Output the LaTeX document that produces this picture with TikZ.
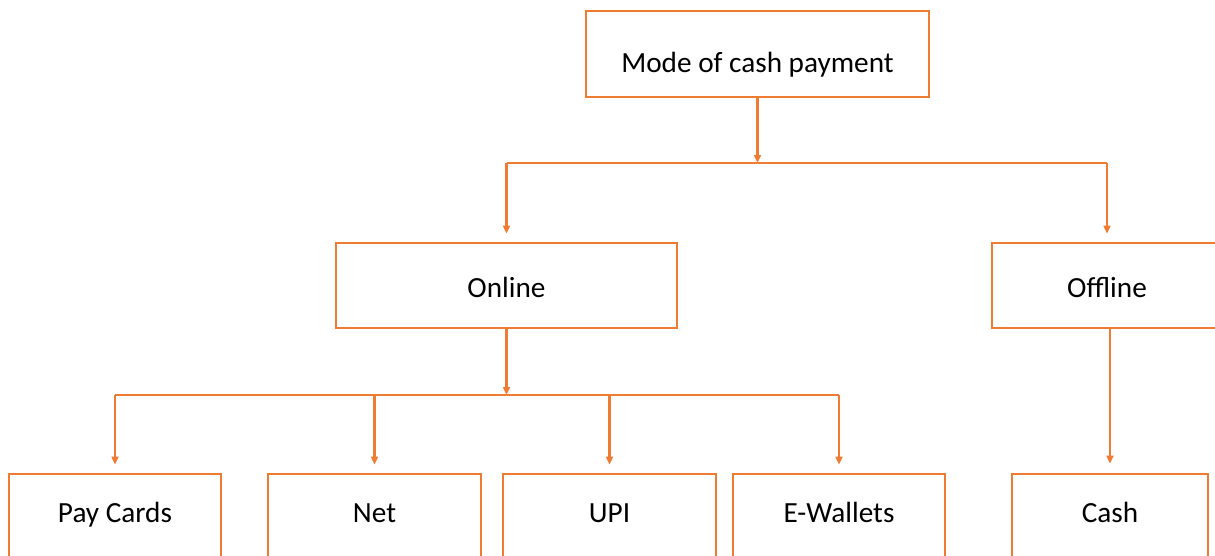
\documentclass[tikz,border=0pt]{standalone}
\usepackage{fontspec}
\setmainfont{Carlito}
\usetikzlibrary{arrows.meta}
\definecolor{payorange}{RGB}{240,123,50}
\tikzset{
  box/.style={draw=payorange, line width=1.8pt, fill=white, inner sep=0pt,
    minimum height=2.125cm, text height=21.8pt, text depth=4.2pt,
    font=\fontsize{20.8}{25}\selectfont},
  leaf/.style={box, minimum height=2.2cm, text height=15.6pt, text depth=9.2pt},
  link/.style={draw=payorange, line width=2pt},
  arrow/.style={link, -{Triangle[length=0.2cm, width=0.17cm]}},
}
\begin{document}
\begin{tikzpicture}[x=0.025cm, y=-0.025cm]
	\useasboundingbox (0,0) rectangle (1215,555);
	\clip (0,0) rectangle (1215,555);
	% boxes
	\node[box, minimum width=8.575cm, minimum height=2.15cm, text height=31pt] (mode) at (757.5,54) {Mode of cash payment};
	\node[box, minimum width=8.525cm] (online) at (506.5,285.5) {Online};
	\node[box, minimum width=5.75cm] (offline) at (1107,285.5) {Offline};
	\node[leaf, minimum width=5.3cm] (cards) at (115,518) {Pay Cards};
	\node[leaf, minimum width=5.325cm] (net) at (374.5,518) {Net};
	\node[leaf, minimum width=5.325cm] (upi) at (609.5,518) {UPI};
	\node[leaf, minimum width=5.3cm] (wallets) at (839,518) {E-Wallets};
	\node[leaf, minimum width=4.9cm] (cash) at (1110,518) {Cash};
	% connectors
	\coordinate (split) at (757.5,163);
	\coordinate (fork) at (506.5,395);
	\draw[arrow] (mode.south) -- (split);
	\draw[link] (online.north |- split) -- (offline.north |- split);
	\draw[arrow, shorten >=0.2cm] (online.north |- split) -- (online.north);
	\draw[arrow, shorten >=0.2cm] (offline.north |- split) -- (offline.north);
	\draw[arrow] (online.south) -- (fork);
	\draw[link] (cards.north |- fork) -- (wallets.north |- fork);
	\foreach \leaf in {cards,net,upi,wallets}
		\draw[arrow, shorten >=0.2cm] (\leaf.north |- fork) -- (\leaf.north);
	\draw[arrow, shorten >=0.225cm] (cash.north |- offline.south) -- (cash.north);
\end{tikzpicture}
\end{document}
